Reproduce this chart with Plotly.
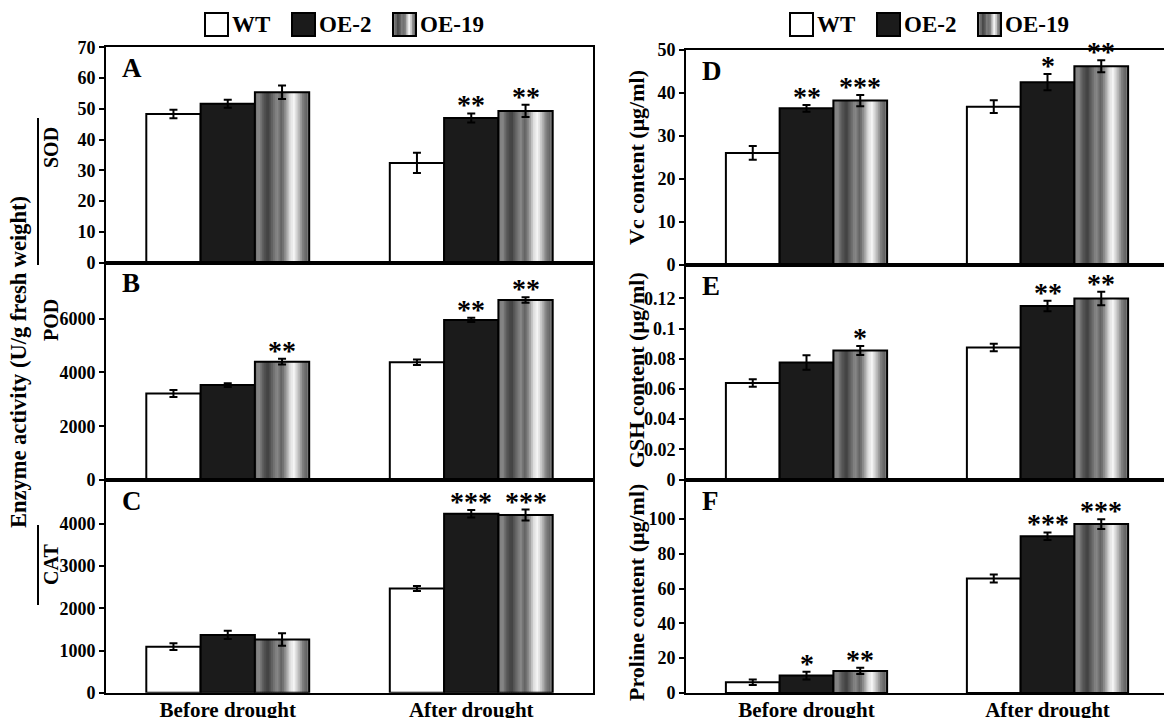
import plotly.graph_objects as go

W, H = 1164, 718

# ---------------- data ----------------
categories = ["Before drought", "After drought"]
series_names = ["WT", "OE-2", "OE-19"]

# A: SOD
sod_wt = [48.3, 32.4];   sod_wt_err = [1.4, 3.3]
sod_oe2 = [51.6, 47.0];  sod_oe2_err = [1.3, 1.5]
sod_oe19 = [55.4, 49.3]; sod_oe19_err = [2.2, 2.0]
sod_oe2_sig = ["", "**"]; sod_oe19_sig = ["", "**"]

# B: POD
pod_wt = [3220, 4380];   pod_wt_err = [130, 100]
pod_oe2 = [3530, 5950];  pod_oe2_err = [70, 80]
pod_oe19 = [4400, 6690]; pod_oe19_err = [110, 100]
pod_oe2_sig = ["", "**"]; pod_oe19_sig = ["**", "**"]

# C: CAT
cat_wt = [1090, 2470];   cat_wt_err = [80, 60]
cat_oe2 = [1370, 4240];  cat_oe2_err = [100, 90]
cat_oe19 = [1260, 4210]; cat_oe19_err = [150, 130]
cat_oe2_sig = ["", "***"]; cat_oe19_sig = ["", "***"]

# D: Vc
vc_wt = [26.0, 36.8];   vc_wt_err = [1.6, 1.5]
vc_oe2 = [36.4, 42.5];  vc_oe2_err = [0.8, 1.9]
vc_oe19 = [38.2, 46.2]; vc_oe19_err = [1.3, 1.4]
vc_oe2_sig = ["**", "*"]; vc_oe19_sig = ["***", "**"]

# E: GSH
gsh_wt = [0.064, 0.0875];  gsh_wt_err = [0.0025, 0.0025]
gsh_oe2 = [0.0775, 0.115]; gsh_oe2_err = [0.0048, 0.0035]
gsh_oe19 = [0.0855, 0.120]; gsh_oe19_err = [0.003, 0.0045]
gsh_oe2_sig = ["", "**"]; gsh_oe19_sig = ["*", "**"]

# F: Proline
pro_wt = [6.2, 65.8];   pro_wt_err = [1.6, 2.3]
pro_oe2 = [10.0, 90.0]; pro_oe2_err = [2.2, 2.2]
pro_oe19 = [12.7, 97.0]; pro_oe19_err = [1.8, 2.8]
pro_oe2_sig = ["*", "***"]; pro_oe19_sig = ["**", "***"]

# tick labels
sod_ticks = [0, 10, 20, 30, 40, 50, 60, 70]
pod_ticks = [0, 2000, 4000, 6000]
cat_ticks = [0, 1000, 2000, 3000, 4000]
vc_ticks = [0, 10, 20, 30, 40, 50]
gsh_ticks = [0, 0.02, 0.04, 0.06, 0.08, 0.1, 0.12]
gsh_ticktext = ["0", "0.02", "0.04", "0.06", "0.08", "0.1", "0.12"]
pro_ticks = [0, 20, 40, 60, 80, 100]

# ---------------- styles / layout ----------------
FONT = "Liberation Serif"
BW = 0.223          # bar width (category units)
NSTRIP = 30
grad_stops = [(0.00, 110), (0.07, 140), (0.15, 92), (0.24, 62), (0.32, 100),
              (0.41, 138), (0.49, 96), (0.57, 150), (0.65, 222), (0.72, 246),
              (0.80, 192), (0.88, 128), (0.95, 100), (1.00, 128)]


def grad_gray(t):
    for (t0, g0), (t1, g1) in zip(grad_stops[:-1], grad_stops[1:]):
        if t0 <= t <= t1:
            g = g0 + (g1 - g0) * (t - t0) / (t1 - t0)
            g = int(round(g))
            return f"rgb({g},{g},{g})"
    return "rgb(128,128,128)"


def px_x(p):
    return p / W


def px_y(p):
    return 1 - p / H


LEFT = (106, 593)
RIGHT = (686, 1164)
panels = [
    dict(letter="A", side=LEFT, top=47.3, bot=262.5, rng=[0, 70], tv=sod_ticks, tt=None,
         wt=(sod_wt, sod_wt_err), oe2=(sod_oe2, sod_oe2_err, sod_oe2_sig), oe19=(sod_oe19, sod_oe19_err, sod_oe19_sig)),
    dict(letter="B", side=LEFT, top=262.5, bot=480.0, rng=[0, 8086], tv=pod_ticks, tt=None,
         wt=(pod_wt, pod_wt_err), oe2=(pod_oe2, pod_oe2_err, pod_oe2_sig), oe19=(pod_oe19, pod_oe19_err, pod_oe19_sig)),
    dict(letter="C", side=LEFT, top=480.0, bot=692.7, rng=[0, 5040], tv=cat_ticks, tt=None,
         wt=(cat_wt, cat_wt_err), oe2=(cat_oe2, cat_oe2_err, cat_oe2_sig), oe19=(cat_oe19, cat_oe19_err, cat_oe19_sig)),
    dict(letter="D", side=RIGHT, top=50.0, bot=264.5, rng=[0, 50], tv=vc_ticks, tt=None,
         wt=(vc_wt, vc_wt_err), oe2=(vc_oe2, vc_oe2_err, vc_oe2_sig), oe19=(vc_oe19, vc_oe19_err, vc_oe19_sig)),
    dict(letter="E", side=RIGHT, top=264.5, bot=479.5, rng=[0, 0.1425], tv=gsh_ticks, tt=gsh_ticktext,
         wt=(gsh_wt, gsh_wt_err), oe2=(gsh_oe2, gsh_oe2_err, gsh_oe2_sig), oe19=(gsh_oe19, gsh_oe19_err, gsh_oe19_sig)),
    dict(letter="F", side=RIGHT, top=479.5, bot=693.0, rng=[0, 122.6], tv=pro_ticks, tt=None,
         wt=(pro_wt, pro_wt_err), oe2=(pro_oe2, pro_oe2_err, pro_oe2_sig), oe19=(pro_oe19, pro_oe19_err, pro_oe19_sig)),
]

fig = go.Figure()
layout = dict(
    width=W, height=H, margin=dict(l=0, r=0, t=0, b=0),
    paper_bgcolor="white", plot_bgcolor="white",
    font=dict(family=FONT, color="black"),
    showlegend=False, barmode="overlay", template="none",
)
annotations = []
shapes = []
xpos = list(range(len(categories)))


def err(arr):
    return dict(type="data", array=arr, visible=True, color="black", thickness=2, width=4)


for i, p in enumerate(panels, start=1):
    xa = "x" if i == 1 else f"x{i}"
    ya = "y" if i == 1 else f"y{i}"
    xk = "xaxis" if i == 1 else f"xaxis{i}"
    yk = "yaxis" if i == 1 else f"yaxis{i}"
    left, right = p["side"]
    is_left = p["side"] == LEFT
    xmax = 1.5 if is_left else -0.5 + (right - left) / 241.0
    bottom_row = p["letter"] in ("C", "F")

    layout[xk] = dict(
        domain=[px_x(left), px_x(right)], anchor=ya, range=[-0.5, xmax],
        showline=True, linecolor="black", linewidth=2, mirror=True,
        showgrid=False, zeroline=False, ticks="",
        tickvals=xpos, ticktext=categories if bottom_row else ["", ""],
        showticklabels=bottom_row, ticklabelstandoff=-3,
        tickfont=dict(family=FONT, size=21, color="black", weight="bold"),
        automargin=False, fixedrange=True,
    )
    layout[yk] = dict(
        domain=[px_y(p["bot"]), px_y(p["top"])], anchor=xa, range=p["rng"],
        showline=True, linecolor="black", linewidth=2, mirror=is_left,
        showgrid=False, zeroline=False,
        ticks="outside", ticklen=5, tickwidth=2, tickcolor="black",
        tickvals=p["tv"], ticktext=p["tt"] if p["tt"] else [str(v) for v in p["tv"]],
        tickfont=dict(family=FONT, size=18, color="black", weight="bold"),
        automargin=False, fixedrange=True,
    )

    wt, wt_e = p["wt"]
    oe2, oe2_e, oe2_s = p["oe2"]
    oe19, oe19_e, oe19_s = p["oe19"]

    fig.add_trace(go.Bar(x=xpos, y=wt, xaxis=xa, yaxis=ya, offset=-1.5 * BW, width=BW,
                         marker=dict(color="white", line=dict(color="black", width=2)),
                         error_y=err(wt_e), name="WT"))
    fig.add_trace(go.Bar(x=xpos, y=oe2, xaxis=xa, yaxis=ya, offset=-0.5 * BW, width=BW,
                         marker=dict(color="#1b1b1b", line=dict(color="black", width=2)),
                         error_y=err(oe2_e), name="OE-2"))
    sw = BW / NSTRIP
    for k in range(NSTRIP):
        t = (k + 0.5) / NSTRIP
        wdt = sw * 1.4 if k < NSTRIP - 1 else sw
        fig.add_trace(go.Bar(x=xpos, y=oe19, xaxis=xa, yaxis=ya, offset=0.5 * BW + k * sw, width=wdt,
                             marker=dict(color=grad_gray(t), line=dict(width=0)),
                             hoverinfo="skip", name="OE-19"))
    fig.add_trace(go.Bar(x=xpos, y=oe19, xaxis=xa, yaxis=ya, offset=0.5 * BW, width=BW,
                         marker=dict(color="rgba(0,0,0,0)", line=dict(color="black", width=2)),
                         error_y=err(oe19_e), name="OE-19"))

    # significance stars
    for vals, errs, sigs, off in ((oe2, oe2_e, oe2_s, 0.0), (oe19, oe19_e, oe19_s, BW)):
        for xi, (v, e, s) in enumerate(zip(vals, errs, sigs)):
            if s:
                annotations.append(dict(x=xi + off, y=v + e, xref=xa, yref=ya, text=s,
                                        showarrow=False, yanchor="bottom", yshift=-9,
                                        font=dict(family=FONT, size=28, color="black", weight="bold")))
    # panel letter
    annotations.append(dict(x=px_x(left + 14), y=px_y(p["top"] + 4), xref="paper", yref="paper",
                            text=p["letter"], showarrow=False, xanchor="left", yanchor="top",
                            font=dict(family=FONT, size=27, color="black", weight="bold")))

# y-axis titles
def vtitle(text, xc, yc, size):
    annotations.append(dict(x=px_x(xc), y=px_y(yc), xref="paper", yref="paper", text=text,
                            textangle=-90, showarrow=False, xanchor="center", yanchor="middle",
                            font=dict(family=FONT, size=size, color="black", weight="bold")))


vtitle("Enzyme activity (U/g fresh weight)", 18, 362, 22.5)
vtitle("SOD", 51, 148, 20)
vtitle("POD", 51, 320, 20)
vtitle("CAT", 51, 565, 20)
vtitle("Vc content (μg/ml)", 636, 157, 22)
vtitle("GSH content (μg/ml)", 636, 370, 22)
vtitle("Proline content (μg/ml)", 636, 592, 22)

# bracket lines beside SOD / CAT
for y0, y1 in ((118, 265), (525, 605)):
    shapes.append(dict(type="line", xref="paper", yref="paper", x0=px_x(38), x1=px_x(38),
                       y0=px_y(y0), y1=px_y(y1), line=dict(color="black", width=2)))

# legends (drawn keys)
for base in (205, 790):
    boxes = [(base, "WT", "white"), (base + 87, "OE-2", "#1b1b1b"), (base + 188, "OE-19", None)]
    for bx, label, col in boxes:
        y0, y1 = 13, 36
        if col is None:
            n = 12
            for k in range(n):
                shapes.append(dict(type="rect", xref="paper", yref="paper",
                                   x0=px_x(bx + 23 * k / n), x1=px_x(bx + 23 * (k + 1) / n + 0.5),
                                   y0=px_y(y1), y1=px_y(y0),
                                   fillcolor=grad_gray((k + 0.5) / n), line=dict(width=0)))
            shapes.append(dict(type="rect", xref="paper", yref="paper", x0=px_x(bx), x1=px_x(bx + 23),
                               y0=px_y(y1), y1=px_y(y0), line=dict(color="black", width=2)))
        else:
            shapes.append(dict(type="rect", xref="paper", yref="paper", x0=px_x(bx), x1=px_x(bx + 23),
                               y0=px_y(y1), y1=px_y(y0), fillcolor=col,
                               line=dict(color="black", width=2)))
        annotations.append(dict(x=px_x(bx + 25), y=px_y(24.5), xref="paper", yref="paper", text=label,
                                showarrow=False, xanchor="left", yanchor="middle",
                                font=dict(family=FONT, size=23, color="black", weight="bold")))

layout["annotations"] = annotations
layout["shapes"] = shapes
fig.update_layout(**layout)
fig.write_html("out.html")
